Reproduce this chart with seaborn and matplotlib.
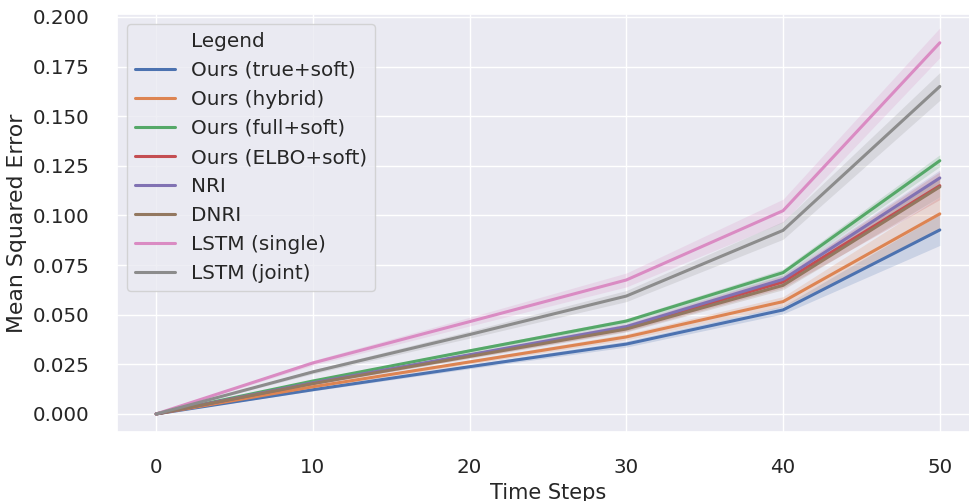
import numpy as np
import pandas as pd
import seaborn as sns
import matplotlib
matplotlib.use("Agg")
import matplotlib.pyplot as plt
from matplotlib.lines import Line2D
from matplotlib.ticker import FormatStrFormatter

steps = [0, 10, 20, 30, 40, 50]
labels = ["Ours (true+soft)", "Ours (hybrid)", "Ours (full+soft)", "Ours (ELBO+soft)",
          "NRI", "DNRI", "LSTM (single)", "LSTM (joint)"]

mse_true_soft = [0, 0.0122, 0.0238, 0.0352, 0.0524, 0.0927]
mse_hybrid    = [0, 0.0137, 0.0262, 0.0388, 0.0566, 0.1008]
mse_full_soft = [0, 0.0166, 0.0318, 0.0468, 0.0712, 0.1276]
mse_elbo_soft = [0, 0.0155, 0.0295, 0.0435, 0.0665, 0.1150]
mse_nri       = [0, 0.0157, 0.0298, 0.0440, 0.0678, 0.1189]
mse_dnri      = [0, 0.0153, 0.0290, 0.0428, 0.0648, 0.1144]
mse_lstm_single = [0, 0.0257, 0.0465, 0.0675, 0.1024, 0.1870]
mse_lstm_joint  = [0, 0.0212, 0.0400, 0.0594, 0.0925, 0.1650]

# half-width of the confidence band at each step
ci_true_soft = [0, 0.0006, 0.0010, 0.0015, 0.0020, 0.0078]
ci_hybrid    = [0, 0.0006, 0.0010, 0.0015, 0.0025, 0.0085]
ci_full_soft = [0, 0.0005, 0.0010, 0.0012, 0.0018, 0.0030]
ci_elbo_soft = [0, 0.0008, 0.0012, 0.0018, 0.0030, 0.0070]
ci_nri       = [0, 0.0006, 0.0010, 0.0015, 0.0022, 0.0040]
ci_dnri      = [0, 0.0006, 0.0010, 0.0015, 0.0022, 0.0050]
ci_lstm_single = [0, 0.0012, 0.0022, 0.0035, 0.0058, 0.0075]
ci_lstm_joint  = [0, 0.0010, 0.0018, 0.0028, 0.0045, 0.0070]

means = [mse_true_soft, mse_hybrid, mse_full_soft, mse_elbo_soft,
         mse_nri, mse_dnri, mse_lstm_single, mse_lstm_joint]
cis = [ci_true_soft, ci_hybrid, ci_full_soft, ci_elbo_soft,
       ci_nri, ci_dnri, ci_lstm_single, ci_lstm_joint]

rows = []
for lab, m, c in zip(labels, means, cis):
    for s, v, e in zip(steps, m, c):
        rows.append({"Time Steps": s, "Mean Squared Error": v, "ci": e, "Legend": lab})
df = pd.DataFrame(rows)

sns.set_theme(style="darkgrid", font_scale=1.3)
palette = sns.color_palette("deep", len(labels))

fig, ax = plt.subplots(figsize=(9.69, 5.01), dpi=100)
sns.lineplot(data=df, x="Time Steps", y="Mean Squared Error", hue="Legend",
             hue_order=labels, palette=palette, errorbar=None, linewidth=2.2, ax=ax)

for lab, col in zip(labels, palette):
    sub = df[df["Legend"] == lab]
    ax.fill_between(sub["Time Steps"], sub["Mean Squared Error"] - sub["ci"],
                    sub["Mean Squared Error"] + sub["ci"], color=col, alpha=0.2,
                    linewidth=0)

ax.set_xlim(-2.5, 52.5)
ax.set_ylim(-0.0091, 0.2015)
ax.set_yticks(np.arange(0, 0.2001, 0.025))
ax.yaxis.set_major_formatter(FormatStrFormatter("%.3f"))
ax.tick_params(axis="y", pad=14)
ax.tick_params(axis="x", pad=13)
ax.xaxis.label.set_size(15)
ax.yaxis.label.set_size(15.8)

handles = [Line2D([], [], linestyle="none")] + \
    [Line2D([], [], color=c, linewidth=2.2) for c in palette]
ax.legend(handles, ["Legend"] + labels, loc="upper left", fontsize=14.4)

fig.subplots_adjust(left=117 / 969, right=979 / 969, top=1 - 14 / 501, bottom=1 - 432 / 501)
fig.savefig("out.png", dpi=100)
